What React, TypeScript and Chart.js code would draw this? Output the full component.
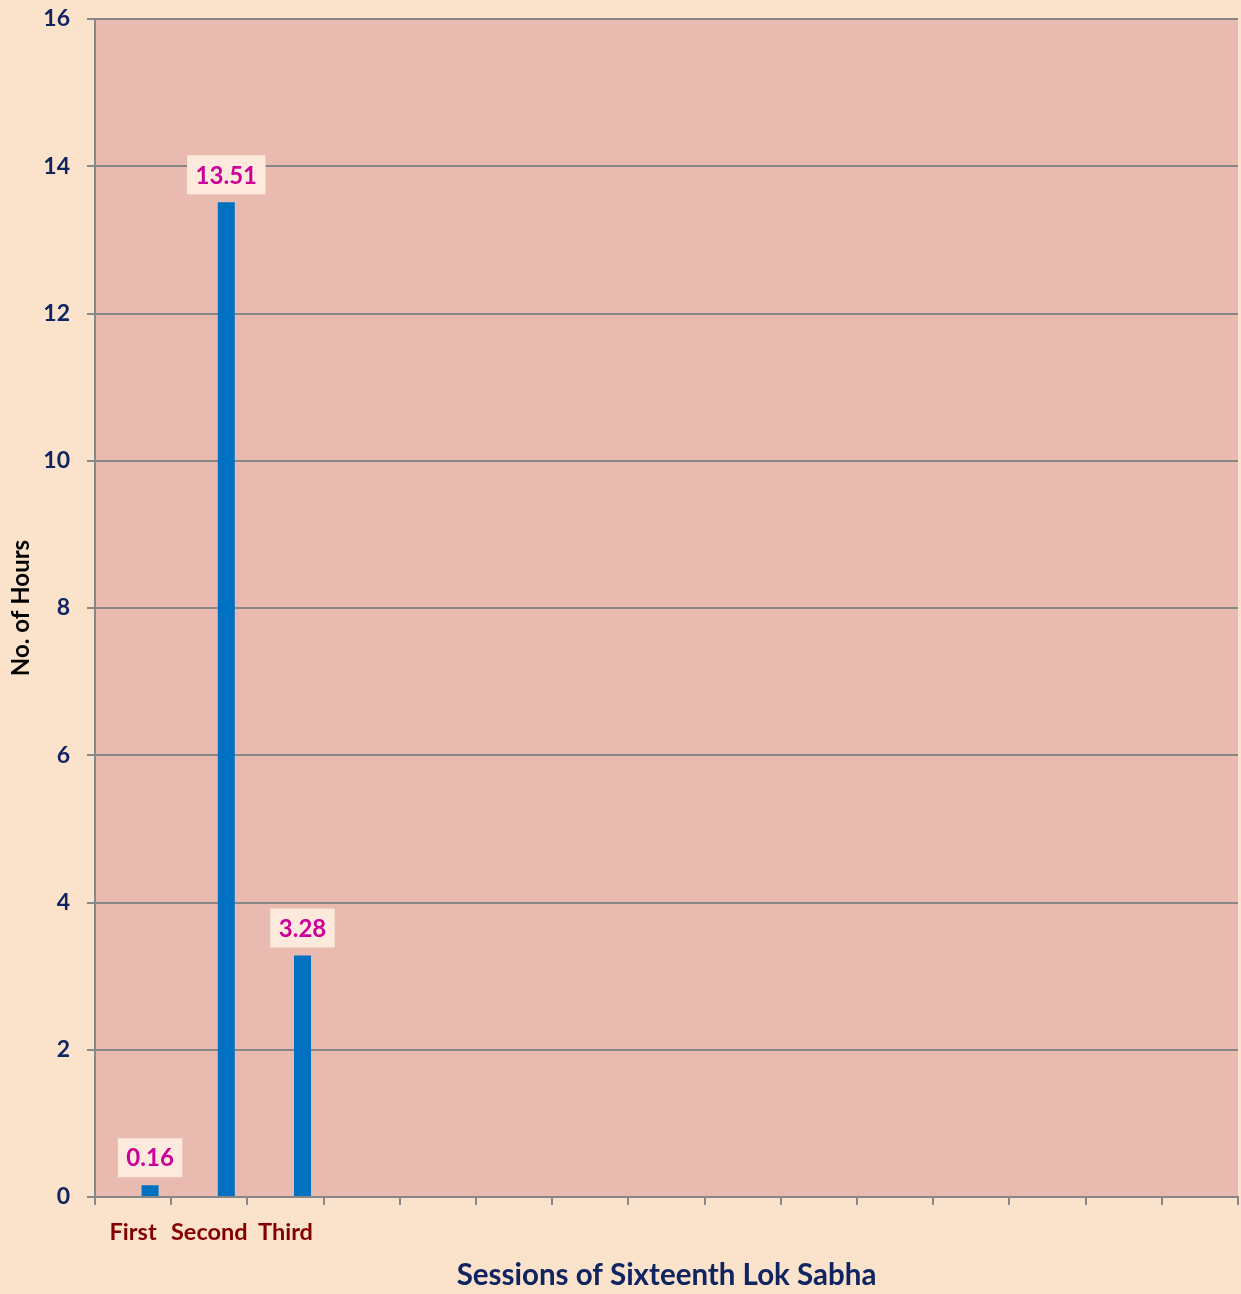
import { useEffect, useRef } from "react";
import { Chart, registerables } from "chart.js";

Chart.register(...registerables);

const categories = ["First", "Second", "Third", "", "", "", "", "", "", "", "", "", "", "", ""];
const hours = [0.16, 13.51, 3.28];
const labelTexts = ["0.16", "13.51", "3.28"];
const yMin = 0;
const yMax = 16;
const yStep = 2;

const FONT = "Lato, 'Open Sans', sans-serif";
const OUTER_BG = "#FBE2CA";
const PLOT_BG = "#E9BAB0";
const GRID = "#878787";

const bgPlugin = {
  id: "bgPlugin",
  beforeDraw(chart: any) {
    const { ctx, chartArea } = chart;
    ctx.save();
    ctx.fillStyle = OUTER_BG;
    ctx.fillRect(0, 0, chart.width, chart.height);
    ctx.fillStyle = PLOT_BG;
    ctx.fillRect(chartArea.left, chartArea.top, chartArea.right - chartArea.left, chartArea.bottom - chartArea.top);
    ctx.restore();
  },
};

const labelPlugin = {
  id: "labelPlugin",
  afterDatasetsDraw(chart: any) {
    const { ctx } = chart;
    const meta = chart.getDatasetMeta(1);
    ctx.save();
    ctx.font = `bold 24px ${FONT}`;
    ctx.textAlign = "center";
    ctx.textBaseline = "middle";
    meta.data.forEach((el: any, i: number) => {
      const text = labelTexts[i];
      if (!text) return;
      const w = ctx.measureText(text).width + 17;
      const h = 39;
      const cx = el.x;
      const bottom = el.y - 8;
      ctx.fillStyle = "#FDEADC";
      ctx.fillRect(cx - w / 2, bottom - h, w, h);
      ctx.fillStyle = "#CC0099";
      ctx.fillText(text, cx, bottom - h / 2 + 1);
    });
    ctx.restore();
  },
};

export default function App() {
  const ref = useRef<HTMLCanvasElement | null>(null);

  useEffect(() => {
    document.body.style.margin = "0";
    const canvas = ref.current;
    if (!canvas) return;
    const chart = new Chart(canvas, {
      type: "bar",
      data: {
        labels: categories,
        datasets: [
          { label: "", data: [], backgroundColor: "#0070C0" },
          {
            label: "Hours",
            data: hours,
            backgroundColor: "#0070C0",
            categoryPercentage: 0.892,
            barPercentage: 0.5,
          },
        ],
      },
      options: {
        responsive: false,
        animation: false,
        layout: { padding: { top: 19, right: 3, left: 0, bottom: 0 } },
        plugins: {
          legend: { display: false },
          tooltip: { enabled: false },
        },
        datasets: { bar: { categoryPercentage: 0.892, barPercentage: 0.5 } },
        scales: {
          x: {
            offset: true,
            afterFit: (s: any) => {
              s.height = 97;
              s.paddingLeft = 0;
              s.paddingRight = 0;
            },
            grid: {
              display: true,
              offset: true,
              drawOnChartArea: false,
              drawTicks: true,
              tickLength: 8,
              color: GRID,
              lineWidth: 2,
            },
            border: { display: true, color: GRID, width: 2 },
            ticks: {
              autoSkip: false,
              maxRotation: 0,
              minRotation: 0,
              padding: 13,
              color: "#840000",
              font: { family: FONT, size: 23.5, weight: "bold" },
            },
            title: {
              display: true,
              text: "Sessions of Sixteenth Lok Sabha",
              color: "#0F2461",
              font: { family: FONT, size: 29.5, weight: "bold" },
              padding: { top: 1, bottom: 1 },
            },
          },
          y: {
            min: yMin,
            max: yMax,
            afterFit: (s: any) => {
              s.width = 95;
              s.paddingTop = 0;
              s.paddingBottom = 0;
            },
            ticks: {
              stepSize: yStep,
              padding: 17,
              color: "#0F2461",
              font: { family: FONT, size: 23, weight: "bold" },
            },
            grid: {
              color: GRID,
              lineWidth: 2,
              tickLength: 8,
            },
            border: { display: true, color: GRID, width: 2 },
            title: {
              display: true,
              text: "No. of Hours",
              color: "#000000",
              font: { family: FONT, size: 24, weight: "bold" },
              padding: { top: 7, bottom: 7 },
            },
          },
        },
      },
      plugins: [bgPlugin, labelPlugin],
    } as any);
    return () => chart.destroy();
  }, []);

  return <canvas ref={ref} width={1241} height={1294} style={{ display: "block" }} />;
}
